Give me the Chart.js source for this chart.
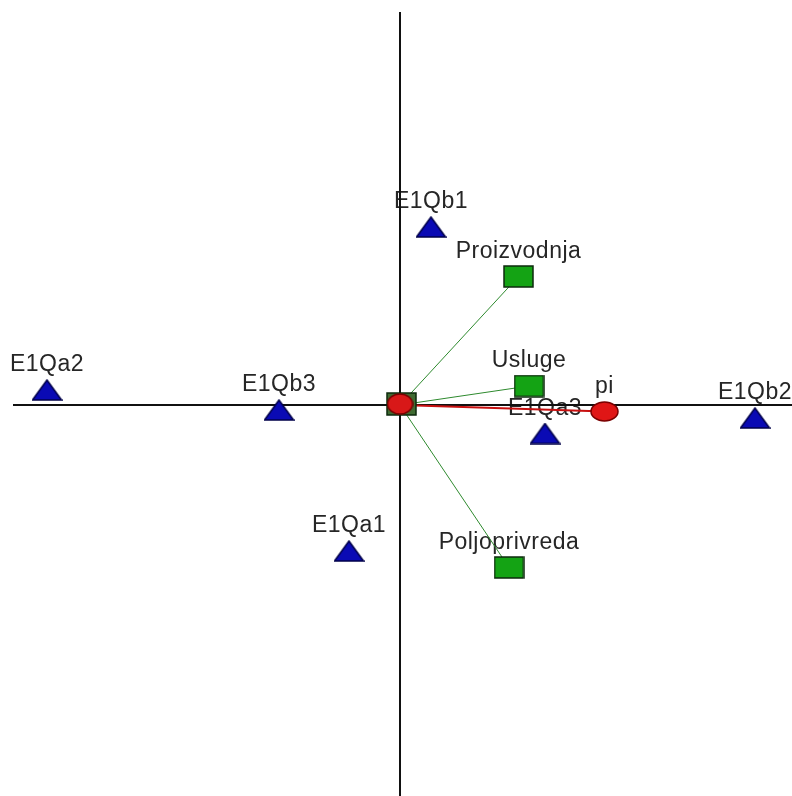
<!DOCTYPE html>
<html>
<head>
<meta charset="utf-8">
<script src="https://cdn.jsdelivr.net/npm/chart.js@4"></script>
<style>
  body { margin: 0; background: #fff; }
  canvas { display: block; }
</style>
</head>
<body>
<canvas id="myChart" width="792" height="796"></canvas>
<script>
// category points (blue triangles)
var catLabels = ['E1Qb1', 'E1Qa2', 'E1Qb3', 'E1Qb2', 'E1Qa1', 'E1Qa3'];
var catX = [0.31, -3.53, -1.21, 3.55, -0.51, 1.45];
var catY = [1.78, 0.15, -0.05, -0.13, -1.46, -0.285];

// variables (green squares, drawn as vectors from origin)
var varLabels = ['Proizvodnja', 'Usluge', 'Poljoprivreda'];
var varX = [1.185, 1.29, 1.09];
var varY = [1.285, 0.19, -1.625];

// supplementary (red ellipse)
var suppLabels = ['pi'];
var suppX = [2.045];
var suppY = [-0.065];

function shape(w, h, fill, stroke, kind) {
    var c = document.createElement('canvas');
    c.width = w; c.height = h;
    var g = c.getContext('2d');
    g.fillStyle = fill;
    g.strokeStyle = stroke;
    g.lineWidth = 1.5;
    g.beginPath();
    if (kind === 'tri') {
        g.moveTo(1, h - 1);
        g.lineTo(w / 2, 1);
        g.lineTo(w - 1, h - 1);
        g.closePath();
    } else if (kind === 'ell') {
        g.ellipse(w / 2, h / 2, w / 2 - 1, h / 2 - 1, 0, 0, Math.PI * 2);
    } else {
        g.rect(1, 1, w - 2, h - 2);
    }
    g.fill();
    g.stroke();
    return c;
}

var triImg = shape(31, 22, '#0a0ab4', '#00004a', 'tri');
var rectImg = shape(31, 23, '#14a314', '#0d2a0d', 'rect');
var origImg = shape(31, 24, '#3f6b32', '#0d2a0d', 'rect');
var ellImg = shape(29, 21, '#e01616', '#7a0000', 'ell');
var origEll = shape(27, 22, '#d81818', '#7a0000', 'ell');

function pts(xs, ys) {
    return xs.map(function (x, i) { return { x: x, y: ys[i] }; });
}

var datasets = [
    { data: [{ x: 0, y: 3.93 }, { x: 0, y: -3.91 }], showLine: true, borderColor: '#111', borderWidth: 2, pointRadius: 0, order: 20 },
    { data: [{ x: -3.87, y: 0 }, { x: 3.92, y: 0 }], showLine: true, borderColor: '#111', borderWidth: 2, pointRadius: 0, order: 20 }
];
varX.forEach(function (x, i) {
    datasets.push({ data: [{ x: 0, y: 0 }, { x: x, y: varY[i] }], showLine: true, borderColor: '#2e8a2e', borderWidth: 1, pointRadius: 0, order: 10 });
});
suppX.forEach(function (x, i) {
    datasets.push({ data: [{ x: 0, y: 0 }, { x: x, y: suppY[i] }], showLine: true, borderColor: '#c81010', borderWidth: 2, pointRadius: 0, order: 10 });
});
datasets.push({ data: [{ x: 0.015, y: 0.01 }], pointStyle: origImg, order: 6 });
datasets.push({ data: [{ x: 0.0, y: 0.01 }], pointStyle: origEll, order: 5 });
datasets.push({ data: pts(varX, varY), pointStyle: rectImg, order: 4, labels: varLabels });
datasets.push({ data: pts(catX, catY), pointStyle: triImg, order: 3, labels: catLabels });
datasets.push({ data: pts(suppX, suppY), pointStyle: ellImg, order: 2, labels: suppLabels });

var pointLabels = {
    id: 'pointLabels',
    beforeDatasetsDraw: function (chart) {
        var ctx = chart.ctx;
        ctx.save();
        ctx.font = '23px "Liberation Sans", Arial, sans-serif';
        ctx.letterSpacing = '0.5px';
        ctx.fillStyle = '#262626';
        ctx.textAlign = 'center';
        ctx.textBaseline = 'alphabetic';
        chart.data.datasets.forEach(function (ds, di) {
            if (!ds.labels) return;
            var meta = chart.getDatasetMeta(di);
            meta.data.forEach(function (p, i) {
                ctx.fillText(ds.labels[i], p.x, p.y - 19);
            });
        });
        ctx.restore();
    }
};

var ctx = document.getElementById('myChart').getContext('2d');
var myChart = new Chart(ctx, {
    type: 'scatter',
    data: { datasets: datasets },
    options: {
        responsive: false,
        animation: false,
        layout: { padding: 0, autoPadding: false },
        plugins: {
            legend: { display: false },
            tooltip: { enabled: false }
        },
        scales: {
            x: { type: 'linear', min: -4.0, max: 3.92, display: false },
            y: { type: 'linear', min: -3.91, max: 4.05, display: false }
        }
    },
    plugins: [pointLabels]
});
</script>
</body>
</html>
